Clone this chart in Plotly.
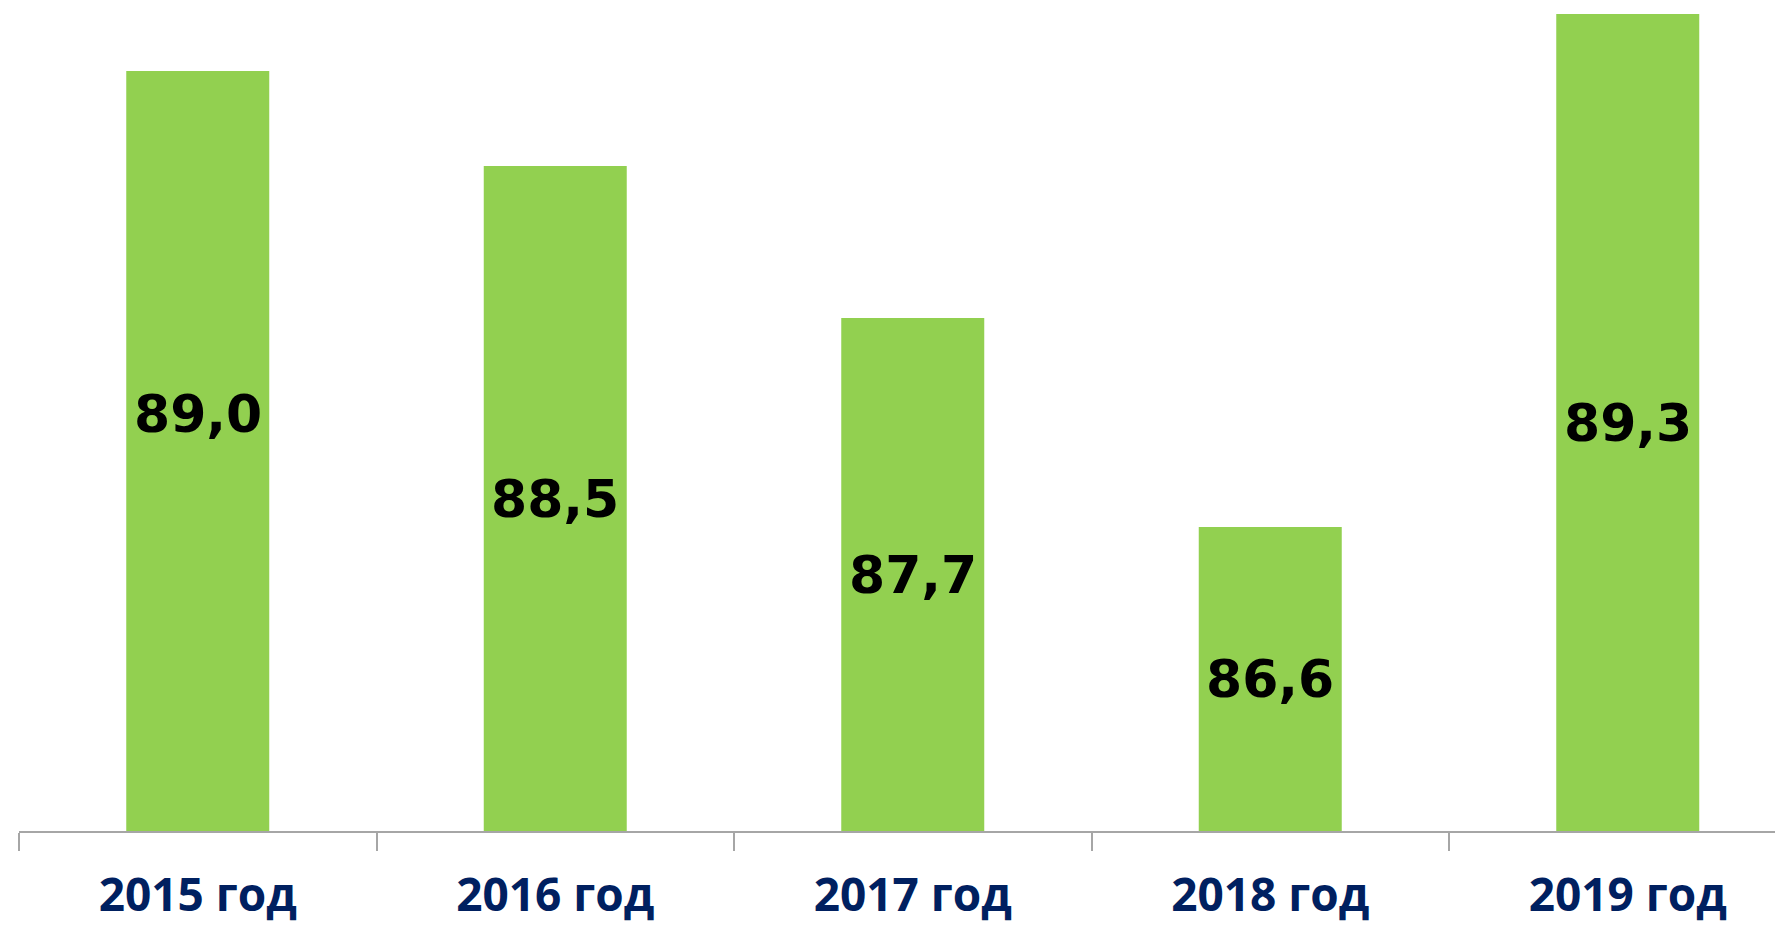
import plotly.graph_objects as go

categories = ["2015 год", "2016 год", "2017 год", "2018 год", "2019 год"]
values = [89.0, 88.5, 87.7, 86.6, 89.3]

Y_MIN = 85.0
PLOT_H = 823
PX_PER_UNIT = 190
label_lift = [37, 0, 0, 0, 0]  # pixel offset of the first label in the original

fig = go.Figure()
fig.add_trace(go.Bar(
    x=categories,
    y=[v - Y_MIN for v in values],
    base=Y_MIN,
    width=0.4,
    marker=dict(color="#92D050", line=dict(width=0)),
    hoverinfo="skip",
))

for c, v, dy in zip(categories, values, label_lift):
    fig.add_annotation(
        x=c, y=(Y_MIN + v) / 2,
        text=f"{v:.1f}".replace(".", ","),
        showarrow=False, yshift=dy,
        font=dict(family="DejaVu Sans", size=52, color="#000000", weight="bold"),
    )

W, H = 1783, 927
ml = 11
cat_px = 357.5
fig.update_layout(
    width=W, height=H,
    margin=dict(l=ml, r=0, t=0, b=H - PLOT_H),
    plot_bgcolor="white", paper_bgcolor="white",
    showlegend=False,
    xaxis=dict(
        range=[-0.5, -0.5 + (W - ml) / cat_px],
        showline=True, linecolor="#A6A6A6", linewidth=1.5,
        ticks="outside", tickson="boundaries", ticklen=18, tickcolor="#A6A6A6", tickwidth=1.5,
        ticklabelstandoff=23,
        tickfont=dict(family="Open Sans", size=46, color="#002060", weight="bold"),
        showgrid=False, zeroline=False, fixedrange=True,
    ),
    yaxis=dict(
        range=[Y_MIN, Y_MIN + PLOT_H / PX_PER_UNIT],
        visible=False, showgrid=False, zeroline=False, fixedrange=True,
    ),
)

fig.write_html("out.html", config={"displayModeBar": False})
